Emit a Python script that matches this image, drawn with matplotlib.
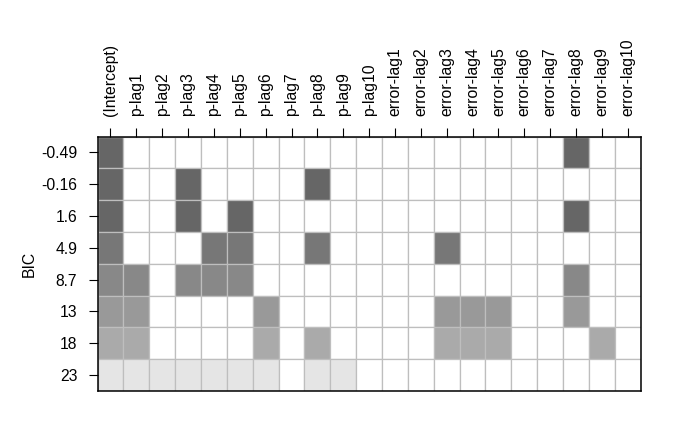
import numpy as np
import matplotlib
matplotlib.use('Agg')
import matplotlib.pyplot as plt
from matplotlib.colors import to_rgb

plt.rcParams['font.family'] = ['Liberation Sans', 'DejaVu Sans']

# --- data ---
variables = ['(Intercept)'] + [f'p-lag{i}' for i in range(1, 11)] + [f'error-lag{i}' for i in range(1, 11)]
bic_labels = ['-0.49', '-0.16', '1.6', '4.9', '8.7', '13', '18', '23']

# variables kept in each model, top row first
row_vars = [
    ['(Intercept)', 'error-lag8'],
    ['(Intercept)', 'p-lag3', 'p-lag8'],
    ['(Intercept)', 'p-lag3', 'p-lag5', 'error-lag8'],
    ['(Intercept)', 'p-lag4', 'p-lag5', 'p-lag8', 'error-lag3'],
    ['(Intercept)', 'p-lag1', 'p-lag3', 'p-lag4', 'p-lag5', 'error-lag8'],
    ['(Intercept)', 'p-lag1', 'p-lag6', 'error-lag3', 'error-lag4', 'error-lag5', 'error-lag8'],
    ['(Intercept)', 'p-lag1', 'p-lag6', 'p-lag8', 'error-lag3', 'error-lag4', 'error-lag5', 'error-lag9'],
    ['(Intercept)', 'p-lag1', 'p-lag2', 'p-lag3', 'p-lag4', 'p-lag5', 'p-lag6', 'p-lag8', 'p-lag9'],
]
row_shades = ['#666666', '#666666', '#666666', '#777777', '#888888', '#999999', '#aaaaaa', '#e5e5e5']

# --- build colour image ---
n_rows, n_cols = len(bic_labels), len(variables)
img = np.ones((n_rows, n_cols, 3))
for r, vs in enumerate(row_vars):
    for v in vs:
        img[r, variables.index(v)] = to_rgb(row_shades[r])

fig = plt.figure(figsize=(7, 4.32), dpi=100)
ax = fig.add_axes([97.5 / 700, 1 - 391 / 432, (640.7 - 97.5) / 700, (391 - 136.5) / 432])

for r in range(n_rows):
    for c in range(n_cols):
        ax.add_patch(plt.Rectangle((c, r), 1, 1, facecolor=img[r, c],
                                   edgecolor='#bebebe', linewidth=0.9))

ax.set_xlim(0, n_cols)
ax.set_ylim(n_rows, 0)

ax.xaxis.tick_top()
ax.set_xticks(np.arange(n_cols) + 0.5)
ax.set_xticklabels(variables, rotation=90, fontsize=11.3)
ax.set_yticks(np.arange(n_rows) + 0.5)
ax.set_yticklabels(bic_labels, fontsize=11.3)
ax.tick_params(axis='both', direction='out', length=6.5, width=0.8, pad=8, color='black')
ax.set_ylabel('BIC', fontsize=11.3, labelpad=3)

for s in ax.spines.values():
    s.set_linewidth(1.1)
    s.set_zorder(5)

fig.savefig('out.png', dpi=100)
